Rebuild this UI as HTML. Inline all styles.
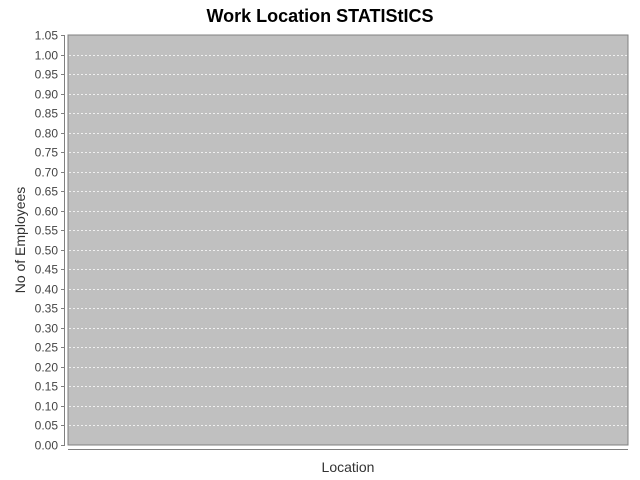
<!DOCTYPE html>
<html><head><meta charset="utf-8"><style>
body{margin:0;background:#fff;}
svg{display:block;font-family:"Liberation Sans",sans-serif;}
</style></head><body>
<svg id="chart" width="640" height="480">
<text x="320" y="22" text-anchor="middle" font-size="18" font-weight="bold" fill="#000">Work Location STATIStICS</text>
<rect x="68" y="35" width="560" height="410" fill="#c0c0c0" stroke="#808080" stroke-width="1"/>
<g id="grid"></g>
<g id="yaxis"></g>
<line x1="68" y1="449.5" x2="628" y2="449.5" stroke="#808080"/>
<text x="348" y="472" text-anchor="middle" font-size="14" fill="#333">Location</text>
<text transform="translate(25,240) rotate(-90)" text-anchor="middle" font-size="14" fill="#333">No of Employees</text>
</svg>
<script>
const yTicks=[0,0.05,0.1,0.15,0.2,0.25,0.3,0.35,0.4,0.45,0.5,0.55,0.6,0.65,0.7,0.75,0.8,0.85,0.9,0.95,1.0,1.05];
const categories=[];
const values=[];
const yMin=0,yMax=1.05;
function yScale(v){return 445-(v-yMin)/(yMax-yMin)*410;}
const ns="http://www.w3.org/2000/svg";
const grid=document.getElementById('grid'),yax=document.getElementById('yaxis');
const axl=document.createElementNS(ns,'line');
axl.setAttribute('x1',64.5);axl.setAttribute('x2',64.5);axl.setAttribute('y1',35);axl.setAttribute('y2',445);axl.setAttribute('stroke','#808080');


yax.appendChild(axl);
yTicks.forEach(t=>{
  const y=Math.round(yScale(t))+0.5;
  if(t>0&&t<yMax){
    const g=document.createElementNS(ns,'line');
    g.setAttribute('x1',69);g.setAttribute('x2',627);g.setAttribute('y1',y);g.setAttribute('y2',y);
    g.setAttribute('stroke','#ffffff');g.setAttribute('stroke-dasharray','2,2');g.setAttribute('stroke-width','0.8');
    
    
    grid.appendChild(g);
  }
  const tk=document.createElementNS(ns,'line');
  tk.setAttribute('x1',61);tk.setAttribute('x2',65);tk.setAttribute('y1',y);tk.setAttribute('y2',y);tk.setAttribute('stroke','#808080');
  
  
  yax.appendChild(tk);
  const tx=document.createElementNS(ns,'text');
  tx.setAttribute('x',58);tx.setAttribute('y',y+4);tx.setAttribute('text-anchor','end');tx.setAttribute('font-size','12');tx.setAttribute('fill','#444');
  tx.textContent=t.toFixed(2);
  
  
  yax.appendChild(tx);
});
</script>
</body></html>
